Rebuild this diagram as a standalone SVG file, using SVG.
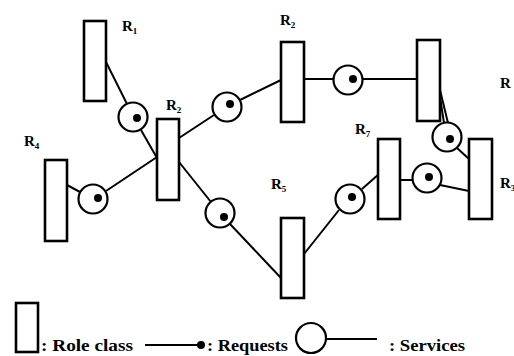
<svg xmlns="http://www.w3.org/2000/svg" width="514" height="356" viewBox="0 0 514 356">
  <style>
    .role { fill: #fff; stroke: #000; stroke-width: 2.6; }
    .svc { fill: #fff; stroke: #000; stroke-width: 2.2; }
    .req { fill: #000; }
    .wire { stroke: #000; stroke-width: 2; fill: none; }
    text { font-family: "Liberation Serif", "Times New Roman", serif; font-weight: bold; fill: #000; }
    .lbl { font-size: 15px; }
    .sub { font-size: 9px; }
    .leg { font-size: 16px; }
  </style>
  <rect width="514" height="356" fill="#fff"/>

  <g id="connectors" class="wire">
    <line x1="106" y1="62" x2="127" y2="104"/>
    <line x1="141" y1="130" x2="157" y2="158"/>
    <line x1="179" y1="138" x2="214" y2="115"/>
    <line x1="240" y1="100" x2="281" y2="80"/>
    <line x1="67" y1="185" x2="80" y2="192"/>
    <line x1="106" y1="191" x2="157" y2="157"/>
    <line x1="179" y1="162" x2="211" y2="202"/>
    <line x1="230" y1="224" x2="281" y2="278"/>
    <line x1="304" y1="254" x2="339" y2="210"/>
    <line x1="362" y1="189" x2="379" y2="174"/>
    <line x1="304" y1="79" x2="334" y2="79"/>
    <line x1="362" y1="79" x2="417" y2="79"/>
    <line x1="437" y1="78" x2="444" y2="123"/>
    <line x1="440" y1="90" x2="448" y2="123"/>
    <line x1="457" y1="148" x2="469" y2="159"/>
    <line x1="400" y1="180" x2="413" y2="180"/>
    <line x1="440" y1="185" x2="469" y2="191"/>
  </g>

  <!-- role classes -->
  <g id="role-r1"><rect class="role" x="84" y="21" width="22" height="80"/></g>
  <g id="role-r2-mid"><rect class="role" x="157" y="119" width="22" height="81"/></g>
  <g id="role-r4"><rect class="role" x="45" y="160" width="22" height="81"/></g>
  <g id="role-r2-top"><rect class="role" x="281" y="42" width="23" height="80"/></g>
  <g id="role-top-right"><rect class="role" x="417" y="40" width="23" height="81"/></g>
  <g id="role-r7"><rect class="role" x="378" y="139" width="22" height="80"/></g>
  <g id="role-r3"><rect class="role" x="469" y="139" width="23" height="80"/></g>
  <g id="role-r5"><rect class="role" x="281" y="218" width="23" height="80"/></g>

  <!-- services with request dots -->
  <g id="svc-1"><circle class="svc" cx="133" cy="117" r="14.5"/><circle class="req" cx="137" cy="118" r="4"/></g>
  <g id="svc-2"><circle class="svc" cx="227" cy="107" r="14.5"/><circle class="req" cx="230" cy="104" r="4"/></g>
  <g id="svc-3"><circle class="svc" cx="93" cy="199" r="14.5"/><circle class="req" cx="98" cy="198" r="4"/></g>
  <g id="svc-4"><circle class="svc" cx="220" cy="213" r="14.5"/><circle class="req" cx="224" cy="217" r="4"/></g>
  <g id="svc-5"><circle class="svc" cx="348" cy="80" r="14.5"/><circle class="req" cx="353" cy="79" r="4"/></g>
  <g id="svc-6"><circle class="svc" cx="447" cy="137" r="14.5"/><circle class="req" cx="450" cy="139" r="4"/></g>
  <g id="svc-7"><circle class="svc" cx="427" cy="178" r="14.5"/><circle class="req" cx="429" cy="177" r="4"/></g>
  <g id="svc-8"><circle class="svc" cx="350" cy="199" r="14.5"/><circle class="req" cx="352" cy="197" r="4"/></g>

  <!-- labels -->
  <g id="labels" class="lbl">
    <text x="122" y="31">R<tspan class="sub" dy="3">1</tspan></text>
    <text x="166" y="110">R<tspan class="sub" dy="3">2</tspan></text>
    <text x="280" y="25">R<tspan class="sub" dy="3">2</tspan></text>
    <text x="24" y="146">R<tspan class="sub" dy="3">4</tspan></text>
    <text x="271" y="189">R<tspan class="sub" dy="3">5</tspan></text>
    <text x="355" y="134">R<tspan class="sub" dy="3">7</tspan></text>
    <text x="500" y="88">R</text>
    <text x="500" y="188">R<tspan class="sub" dy="3">3</tspan></text>
  </g>

  <!-- legend -->
  <g id="legend">
    <rect class="role" x="16" y="303" width="22" height="49"/>
    <text class="leg" x="41" y="351" textLength="92" lengthAdjust="spacingAndGlyphs">: Role class</text>
    <line class="wire" x1="145" y1="345" x2="200" y2="345"/>
    <circle class="req" cx="201" cy="345" r="4"/>
    <text class="leg" x="207" y="351" textLength="81" lengthAdjust="spacingAndGlyphs">: Requests</text>
    <circle class="svc" cx="311" cy="338" r="15"/>
    <line class="wire" x1="326" y1="339" x2="377" y2="339"/>
    <text class="leg" x="389" y="351" textLength="76" lengthAdjust="spacingAndGlyphs">: Services</text>
  </g>
</svg>
